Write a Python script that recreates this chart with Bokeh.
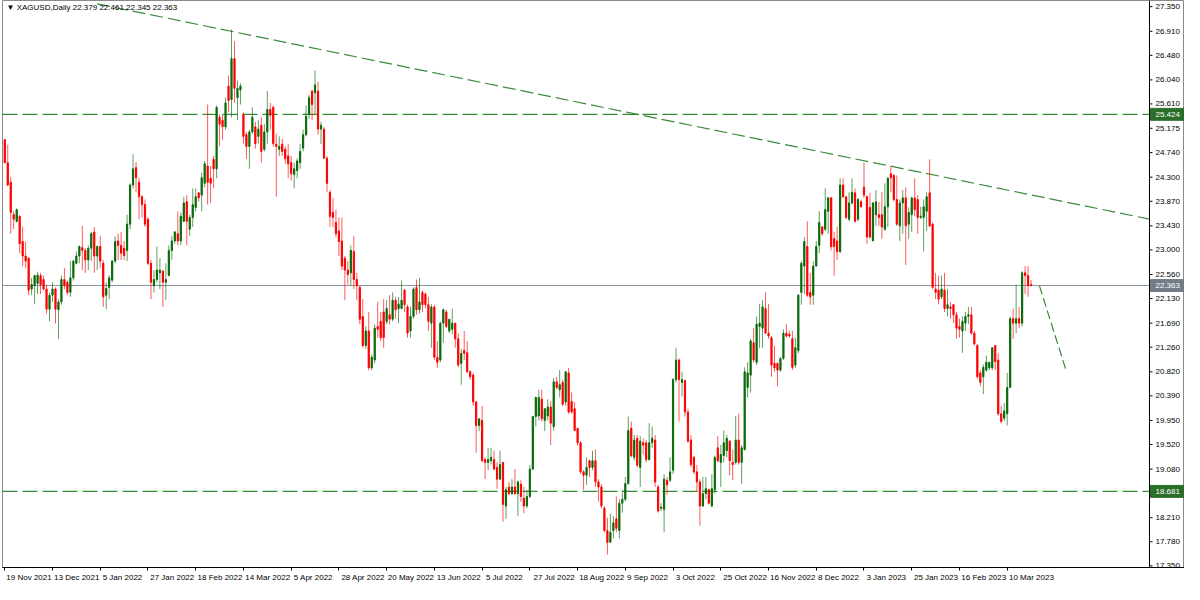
from bokeh.plotting import figure
from bokeh.models import FixedTicker, Label, ColumnDataSource
from bokeh.core.properties import value
from bokeh.embed import file_html
from bokeh.resources import INLINE

# ---- daily candles (bar index 0 = 19 Nov 2021) ----
opens = [24.97,24.56,24.21,23.63,23.51,23.60,23.15,22.89,22.85,22.30,22.36,22.40,22.54,22.47,22.30,21.94,22.19,22.30,21.93,22.07,
22.47,22.42,22.24,22.50,22.76,22.89,23.04,22.99,22.82,23.03,23.32,22.89,23.06,22.76,22.19,22.33,22.46,22.80,23.16,23.08,
23.03,22.99,23.46,24.16,24.47,24.21,23.95,23.81,23.55,22.76,22.36,22.47,22.59,22.62,22.42,22.54,22.99,23.16,23.29,23.16,
23.51,23.86,23.37,23.58,23.76,24.02,23.98,24.19,24.50,24.28,24.62,24.45,25.37,25.32,25.20,25.93,25.69,26.42,25.72,25.86,
25.42,25.06,24.85,25.11,25.20,25.03,25.23,24.80,25.11,25.51,25.55,24.89,24.80,24.89,24.80,24.68,24.56,24.35,24.42,24.56,
24.82,25.06,25.42,25.84,25.81,25.84,25.16,25.16,24.64,24.03,23.67,23.49,23.34,23.16,22.85,22.64,22.59,22.97,22.47,22.33,
21.81,21.29,21.55,20.89,21.03,21.63,21.72,21.89,21.72,21.84,21.76,22.10,21.95,21.95,22.28,21.98,21.55,21.81,22.33,21.93,
22.24,22.21,22.02,21.69,21.98,21.08,21.03,21.69,21.89,21.55,21.58,21.69,21.41,20.97,21.20,21.16,20.82,20.76,20.28,19.86,
19.95,19.25,19.20,19.23,19.25,19.11,18.90,19.20,18.42,18.76,18.64,18.76,18.64,18.81,18.56,18.42,18.59,19.08,20.02,20.03,
20.33,19.95,20.03,20.19,19.84,20.64,20.50,20.63,20.28,20.80,20.29,20.16,19.81,19.55,19.03,18.97,19.23,19.11,19.23,18.85,
18.76,18.38,17.98,17.77,17.98,18.19,17.98,18.47,18.54,18.82,19.81,19.29,19.63,19.11,19.55,19.55,19.25,19.55,19.60,18.76,
18.38,18.36,18.88,18.88,19.06,20.68,21.03,20.63,20.66,20.10,19.60,19.29,19.03,18.85,18.42,18.64,18.71,18.42,18.71,19.46,
19.20,19.32,19.41,19.58,19.20,19.20,19.60,19.20,19.43,20.54,20.76,21.34,20.99,21.63,21.60,21.95,21.51,21.43,20.97,20.97,
20.85,21.06,21.51,21.49,21.41,20.94,21.20,22.24,22.71,23.06,22.24,22.19,22.71,23.08,23.41,23.37,23.69,23.93,23.20,23.16,
22.97,24.16,23.95,23.55,23.84,24.02,23.55,23.86,24.12,23.95,23.76,23.16,23.63,23.63,23.63,23.37,23.77,24.36,24.33,23.90,
23.43,23.84,23.93,23.46,23.63,23.93,23.90,23.58,23.58,23.69,24.02,23.46,22.30,22.28,22.16,22.28,21.95,21.98,22.02,21.84,
21.63,21.55,21.69,21.81,21.84,21.51,21.29,20.80,20.73,20.85,20.89,20.89,21.29,21.03,20.07,19.99,20.07,20.54,21.77,21.69,
21.77,21.69,22.59,22.54,22.379]
highs = [24.98,24.88,24.31,23.69,23.74,23.62,23.42,23.15,22.87,22.50,22.56,22.61,22.59,22.54,22.38,22.24,22.42,22.33,22.12,22.54,
22.68,22.45,22.80,22.82,22.97,23.08,23.43,23.03,23.08,23.32,23.41,23.08,23.25,22.82,22.42,22.55,22.82,23.24,23.29,23.32,
23.16,23.63,24.19,24.71,24.57,24.29,23.98,23.90,23.58,22.82,22.64,23.06,22.85,22.64,22.76,23.08,23.25,23.34,23.69,23.67,
23.95,23.98,23.63,24.10,24.10,24.03,24.38,24.59,25.60,24.50,24.68,25.58,25.42,25.42,25.72,26.12,26.94,26.73,26.03,25.98,
25.46,25.11,25.15,25.55,25.29,25.32,25.37,25.25,25.84,25.63,25.58,25.08,25.03,24.99,24.85,24.89,24.68,24.56,24.64,24.89,
25.15,25.58,25.77,25.86,26.21,26.01,25.29,25.20,24.68,24.07,23.93,23.72,23.58,23.58,22.89,22.80,23.08,23.25,22.59,22.36,
22.12,21.63,21.89,21.13,21.67,22.07,21.89,22.12,22.10,22.19,22.24,22.16,22.16,22.45,22.30,22.02,21.98,22.33,22.47,22.50,
22.28,22.24,22.16,22.03,22.02,21.37,21.72,21.95,21.93,21.76,21.95,21.69,21.51,21.23,21.55,21.37,20.85,20.80,20.30,19.98,
20.21,19.29,19.46,19.46,19.41,19.20,19.41,19.20,18.76,18.85,18.90,19.08,18.88,18.88,18.76,18.71,19.15,20.03,20.38,20.50,
20.50,20.16,20.33,20.29,20.71,20.73,20.85,20.68,20.82,20.89,20.45,20.28,19.81,19.58,19.06,19.29,19.25,19.41,19.43,18.90,
18.81,18.42,18.21,18.28,18.24,18.59,18.54,18.71,18.94,20.02,19.93,19.69,19.69,19.67,19.63,19.60,19.90,19.84,19.69,18.80,
18.47,18.99,18.94,19.29,20.71,21.25,21.06,20.82,20.68,20.16,19.69,19.32,19.15,18.90,18.94,18.94,18.73,18.99,19.32,19.67,
19.51,19.77,19.69,19.60,19.43,20.03,20.07,19.51,20.90,20.99,21.41,21.60,21.81,22.03,22.10,22.24,22.03,21.46,21.29,20.99,
21.08,21.58,21.67,21.55,21.55,21.43,22.21,22.80,23.23,23.51,22.59,22.80,23.16,23.69,23.43,24.10,23.95,23.95,23.32,23.41,
24.28,24.28,23.95,24.03,24.28,24.10,23.93,23.90,24.56,23.98,24.02,23.86,24.07,23.86,24.03,24.19,24.30,24.50,24.36,24.33,
23.90,24.07,24.12,23.76,23.95,24.28,23.98,23.77,23.90,24.03,24.62,23.49,22.59,22.54,22.54,22.59,22.30,22.07,22.03,21.89,
21.77,21.81,21.89,21.98,21.98,21.55,21.32,20.85,20.95,21.11,20.99,21.25,21.29,21.15,20.21,20.26,20.80,21.81,21.95,22.38,
21.98,22.62,22.71,22.71,22.461]
lows = [24.55,24.14,23.29,23.37,23.49,22.94,22.71,22.68,22.19,22.19,22.03,22.21,22.21,22.28,21.86,21.72,22.07,21.68,21.41,22.02,
22.30,22.19,22.16,22.45,22.74,22.76,22.64,22.59,22.64,22.80,22.59,22.64,22.68,21.98,21.94,22.12,22.42,22.76,22.82,22.82,
22.82,22.80,23.37,24.10,24.03,23.55,23.58,23.41,22.73,22.12,22.24,22.42,22.30,21.98,22.10,22.54,22.82,23.11,23.08,23.08,
23.51,23.08,23.25,23.41,23.69,23.86,23.69,24.12,23.81,23.84,24.10,24.28,24.85,24.97,25.15,25.46,25.37,25.63,25.32,25.60,
24.90,24.63,24.45,25.08,24.81,24.90,24.56,24.76,24.90,25.15,24.85,23.95,24.68,24.68,24.54,24.28,24.24,24.10,24.28,24.45,
24.76,25.03,25.34,25.32,25.42,25.06,24.89,24.63,24.03,23.41,23.41,23.23,22.89,22.64,22.10,22.38,22.36,22.30,22.10,21.67,
21.25,21.23,20.85,20.85,20.97,21.43,21.37,21.25,21.67,21.67,21.72,21.77,21.69,21.95,21.89,21.43,21.43,21.77,21.84,21.86,
21.89,21.95,21.55,21.25,21.03,20.89,20.99,21.34,21.60,21.51,21.49,21.25,20.90,20.59,21.03,20.80,20.68,20.21,19.37,19.76,
19.20,18.90,19.06,19.16,19.06,18.73,18.89,18.14,18.19,18.62,18.62,18.62,18.24,18.50,18.29,18.38,18.56,19.06,19.84,19.95,
19.93,19.76,19.95,19.51,19.77,20.50,20.36,20.21,20.21,20.07,20.07,19.76,19.50,18.99,18.71,18.80,18.94,19.06,18.76,18.50,
18.38,17.95,17.55,17.76,17.84,17.95,17.84,18.30,18.50,18.80,19.29,19.23,19.11,18.76,19.34,19.20,19.23,19.46,18.76,18.30,
18.33,17.95,18.62,18.85,18.99,20.63,19.93,20.38,20.02,19.55,19.11,18.99,18.68,18.07,18.40,18.54,18.45,18.40,18.64,19.20,
18.76,19.20,19.29,18.97,18.88,19.16,19.16,18.82,19.41,20.36,20.45,20.99,20.94,21.25,21.25,21.51,21.41,20.73,20.82,20.56,
20.82,21.03,21.43,21.43,20.85,20.89,21.15,22.02,22.21,22.16,22.02,22.02,22.71,22.94,23.25,23.34,23.29,22.99,22.54,22.82,
22.94,23.93,23.55,23.51,23.81,23.49,23.51,23.76,23.93,23.11,23.20,23.16,23.43,23.43,23.20,23.34,23.41,24.03,23.86,23.43,
23.16,23.29,22.73,23.20,23.32,23.60,23.29,23.55,22.97,23.34,23.41,22.30,22.12,22.03,22.12,21.89,21.81,21.77,21.69,21.41,
21.43,21.16,21.55,21.67,21.49,21.29,20.70,20.56,20.42,20.82,20.85,20.85,20.85,20.03,19.90,19.94,19.86,20.54,21.41,21.51,
21.60,21.63,22.21,22.16,22.345]
closes = [24.56,24.16,23.67,23.55,23.72,23.11,22.89,22.80,22.28,22.38,22.54,22.55,22.38,22.30,21.94,22.19,22.30,21.94,22.07,22.47,
22.36,22.24,22.50,22.80,22.89,23.06,22.99,22.82,23.03,23.29,22.89,23.06,22.80,22.16,22.31,22.50,22.80,23.15,23.08,22.94,
22.90,23.46,24.16,24.45,24.29,23.95,23.81,23.46,22.76,22.42,22.47,22.64,22.64,22.42,22.47,22.99,23.16,23.32,23.16,23.60,
23.84,23.51,23.58,23.81,23.95,23.93,24.29,24.54,24.21,24.19,24.45,25.55,25.25,25.20,25.63,25.67,26.42,25.89,25.89,25.93,
25.03,24.85,25.11,25.37,24.90,25.16,24.76,25.11,25.51,25.41,24.90,24.85,24.85,24.76,24.63,24.54,24.36,24.45,24.59,24.76,
25.06,25.39,25.72,25.60,25.95,25.16,25.23,24.64,24.19,23.60,23.58,23.29,23.15,22.71,22.64,22.56,22.99,22.47,22.36,21.76,
21.29,21.55,20.89,21.08,21.60,21.58,21.43,21.43,21.95,21.76,22.10,21.93,22.03,22.10,22.02,21.51,21.81,22.30,21.93,22.07,
22.02,22.02,21.72,21.98,21.08,20.99,21.69,21.93,21.63,21.76,21.69,21.41,20.94,21.15,21.15,20.82,20.73,20.28,19.86,19.98,
19.23,19.20,19.25,19.29,19.08,18.90,19.16,18.45,18.71,18.64,18.76,18.64,18.85,18.59,18.42,18.59,19.08,20.02,20.36,20.36,
19.98,20.16,20.19,19.90,20.64,20.54,20.59,20.24,20.82,20.10,20.10,19.77,19.55,19.03,18.97,19.11,19.11,19.23,18.85,18.76,
18.42,17.98,17.77,17.95,18.12,18.02,18.47,18.54,18.82,19.77,19.32,19.60,19.15,19.58,19.51,19.25,19.55,19.63,18.85,18.33,
18.40,18.90,18.80,19.03,20.68,21.03,20.68,20.68,20.10,19.58,19.16,19.03,18.85,18.42,18.64,18.73,18.47,18.73,19.29,19.23,
19.34,19.55,19.63,19.23,19.16,19.60,19.20,19.46,20.82,20.80,21.37,21.03,21.67,21.69,21.98,21.51,21.46,20.94,20.89,20.85,
21.06,21.51,21.46,21.46,20.90,21.25,22.19,22.76,23.15,22.19,22.16,22.71,23.06,23.49,23.29,23.72,23.93,23.06,23.06,22.97,
24.16,23.95,23.58,23.84,24.03,23.51,23.90,23.77,23.98,23.23,23.23,23.84,23.86,23.58,23.41,23.77,24.28,24.29,23.90,23.46,
23.84,23.93,23.43,23.67,23.93,23.72,23.58,23.60,23.77,23.95,23.43,22.33,22.24,22.12,22.30,21.95,22.02,21.95,21.84,21.60,
21.58,21.72,21.81,21.84,21.51,21.32,20.73,20.63,20.90,20.99,20.99,21.25,21.00,20.07,19.93,20.12,20.54,21.77,21.69,21.77,
21.69,22.59,22.54,22.36,22.363]

# ---- axis labels ----
date_label_bars = [0, 16, 32, 48, 64, 80, 96, 112, 128, 144, 160, 176, 192, 208, 224, 240, 256, 272, 288, 304, 320, 336]
date_labels = ["19 Nov 2021", "13 Dec 2021", "5 Jan 2022", "27 Jan 2022", "18 Feb 2022", "14 Mar 2022",
               "5 Apr 2022", "28 Apr 2022", "20 May 2022", "13 Jun 2022", "5 Jul 2022", "27 Jul 2022",
               "18 Aug 2022", "9 Sep 2022", "3 Oct 2022", "25 Oct 2022", "16 Nov 2022", "8 Dec 2022",
               "3 Jan 2023", "25 Jan 2023", "16 Feb 2023", "10 Mar 2023"]
price_labels = ["27.350", "26.910", "26.480", "26.040", "25.610", "25.175", "24.740", "24.300", "23.870",
                "23.430", "23.000", "22.560", "22.130", "21.690", "21.260", "20.820", "20.390", "19.950",
                "19.520", "19.080", "18.650", "18.210", "17.780", "17.350"]

# ---- drawn objects ----
level_upper = 25.424
level_lower = 18.681
last_price = 22.363
trend_x = [31, 383.7]
trend_y = [27.40, 23.55]
proj_x = [346.8, 355.7]
proj_y = [22.36, 20.85]
header = "\u25bc XAGUSD,Daily  22.379 22.461 22.345 22.363"

BULL = "#0a6a0a"
BEAR = "#ff0000"
LINE_GREEN = "#3a8a3a"
FONT = "Liberation Sans"

# ---- layout constants ----
W, H = 1184, 584
X0, X1 = -0.76, 383.7          # chart area (bars)
SCALE_PX = 35                  # width of the price scale strip
Y0, Y1 = 17.32, 27.46
FRAME_W = W - 2                # min_border_left = 2
PX_PER_BAR = (FRAME_W - SCALE_PX) / (X1 - X0)
XR = X1 + SCALE_PX / PX_PER_BAR
FRAME_H = H - 14
PX_PER_UNIT = FRAME_H / (Y1 - Y0)

n = len(closes)
idx = list(range(n))
cols = [BULL if c >= o else BEAR for o, c in zip(opens, closes)]
src = ColumnDataSource(dict(
    x=idx,
    top=[max(o, c) for o, c in zip(opens, closes)],
    bottom=[min(o, c) for o, c in zip(opens, closes)],
    high=highs, low=lows, color=cols,
))

p = figure(width=W, height=H, x_range=(X0, XR), y_range=(Y0, Y1),
           y_axis_location=None, toolbar_location=None, output_backend="svg",
           min_border_left=2, min_border_top=0, min_border_right=0, min_border_bottom=0)
p.background_fill_color = "white"
p.border_fill_color = "white"
p.outline_line_color = "#8a8a8a"
p.outline_line_width = 1
p.xgrid.visible = False
p.ygrid.visible = False

# price levels (end at the price scale)
p.line([X0, X1], [level_upper, level_upper], line_color=LINE_GREEN, line_dash="15 5", line_width=1.2)
p.line([X0, X1], [level_lower, level_lower], line_color=LINE_GREEN, line_dash="15 5", line_width=1.2)
p.line([X0, X1], [last_price, last_price], line_color="#8a95a3", line_width=1)

# trend lines
p.line(trend_x, trend_y, line_color=LINE_GREEN, line_dash="13 5", line_width=1.2)
p.line(proj_x, proj_y, line_color=LINE_GREEN, line_dash="9 4", line_width=1.2)

# candles
p.segment(x0="x", y0="low", x1="x", y1="high", line_color="color", line_alpha=0.65,
          line_width=1, source=src)
p.vbar(x="x", width=0.4, top="top", bottom="bottom", fill_color="color",
       line_color="color", line_width=1, source=src)

# ---- price scale (drawn in the strip right of the chart) ----
price_vals = [float(s) for s in price_labels]
p.segment(x0=[X1], y0=[Y0], x1=[X1], y1=[Y1], line_color="black", line_width=1)
tick_len = 3 / PX_PER_BAR
p.segment(x0=[X1] * len(price_vals), y0=price_vals, x1=[X1 + tick_len] * len(price_vals),
          y1=price_vals, line_color="black", line_width=1)
p.text(x=[X1 + 6 / PX_PER_BAR] * len(price_vals), y=price_vals, text=price_labels,
       text_font=value(FONT), text_font_size="8px", text_color="black",
       text_align="left", text_baseline="middle")

box_vals = [level_upper, last_price, level_lower]
box_cols = ["#2a6e2a", "#737d88", "#2a6e2a"]
half_h = 6 / PX_PER_UNIT
p.quad(left=[X1 + 1 / PX_PER_BAR] * 3, right=[XR] * 3,
       top=[v + half_h for v in box_vals], bottom=[v - half_h for v in box_vals],
       fill_color=box_cols, line_color=box_cols)
p.text(x=[X1 + 6 / PX_PER_BAR] * 3, y=box_vals, text=[f"{v:.3f}" for v in box_vals],
       text_font=value(FONT), text_font_size="8px", text_color="white",
       text_align="left", text_baseline="middle")

# ---- time axis: labels start at their bar, small marks at the bar ----
def label_px(s):
    return len(s) * 4.05

xax = p.xaxis[0]
label_pos = [b + (label_px(s) / 2 + 2) / PX_PER_BAR for b, s in zip(date_label_bars, date_labels)]
xax.ticker = FixedTicker(ticks=label_pos, minor_ticks=date_label_bars)
xax.major_label_overrides = {pos: s for pos, s in zip(label_pos, date_labels)}
xax.major_label_text_font = FONT
xax.major_label_text_font_size = "8px"
xax.major_label_text_color = "black"
xax.major_tick_out = 0
xax.major_tick_in = 0
xax.minor_tick_out = 3
xax.minor_tick_in = 0
xax.minor_tick_line_color = "black"
xax.major_label_standoff = 2
xax.axis_line_color = "black"

# header
p.add_layout(Label(x=0.6, y=Y1, y_offset=-2, text=header, text_color="black",
                   text_font=FONT, text_font_size="8px", text_align="left",
                   text_baseline="top"))

open("out.html", "w").write(file_html(p, INLINE))
